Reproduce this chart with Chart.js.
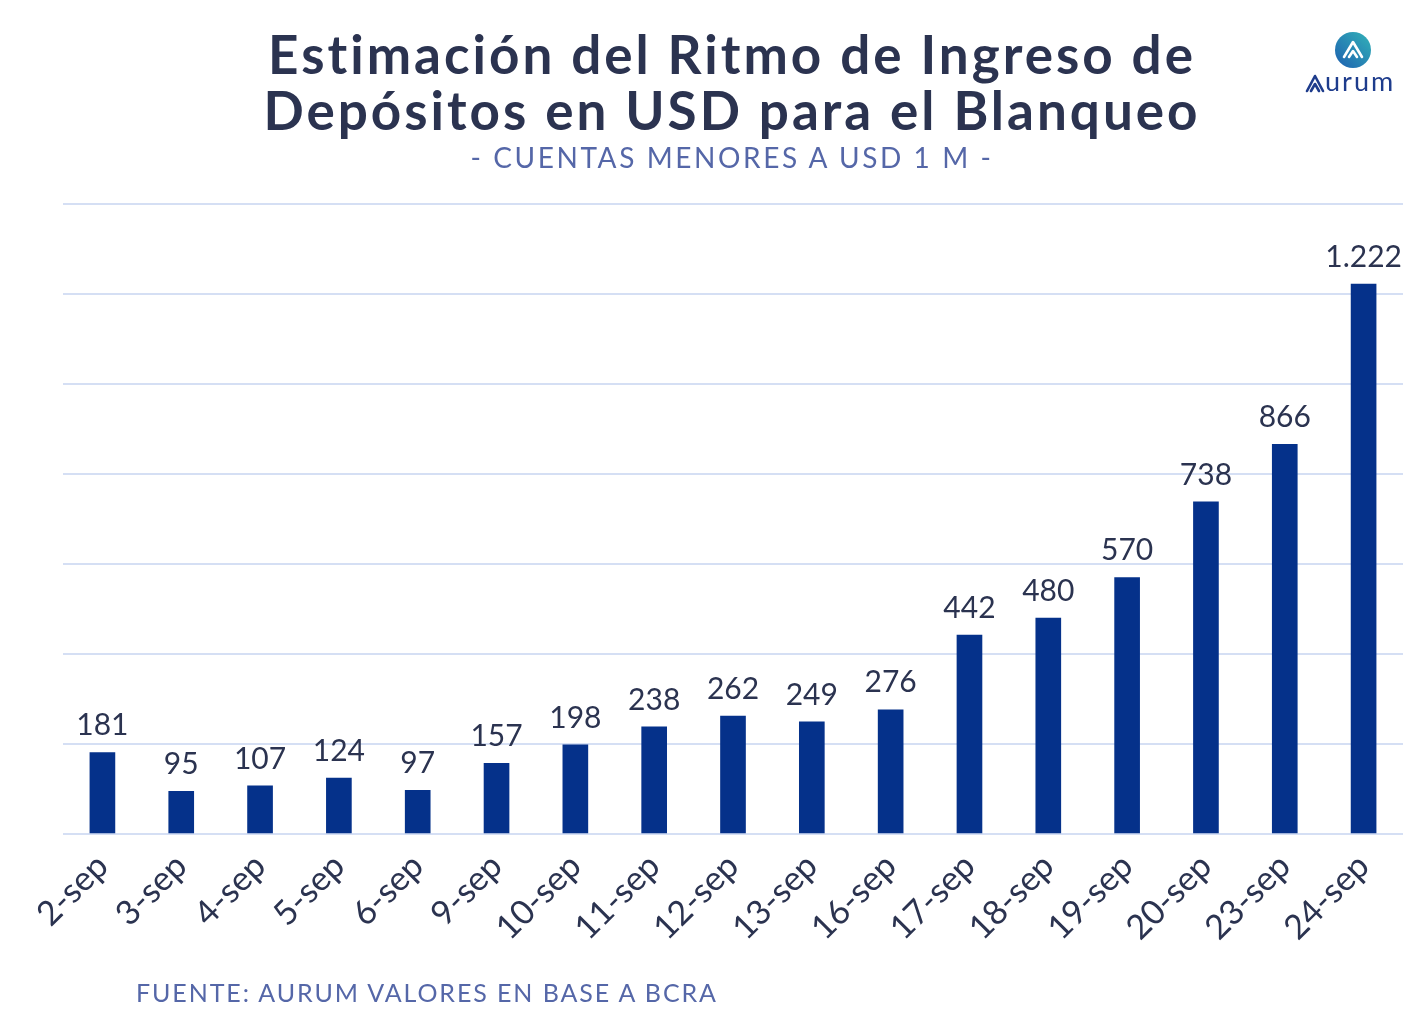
<!DOCTYPE html>
<html><head><meta charset="utf-8">
<script src="https://cdn.jsdelivr.net/npm/chart.js@4.4.1/dist/chart.umd.min.js"></script>
<style>
html,body{margin:0;padding:0;background:#fff;}
#wrap{position:relative;width:1422px;height:1032px;overflow:hidden;font-family:Lato,"Open Sans",sans-serif;}
#c{position:absolute;left:0;top:0;}
.t{position:absolute;white-space:nowrap;}
#title{left:0;width:1464px;top:26px;text-align:center;font-weight:700;font-size:53px;line-height:56px;color:#2b3350;letter-spacing:3px;}
#sub{left:0;width:1464px;top:140px;text-align:center;font-size:28px;color:#5567a8;letter-spacing:2.6px;}
#foot{left:136px;top:977px;font-size:25px;color:#5567a8;letter-spacing:1.9px;}
#logo{position:absolute;left:1300px;top:30px;}
</style></head>
<body><div id="wrap">
<canvas id="c" width="1422" height="1032"></canvas>
<div class="t" id="title">Estimación del Ritmo de Ingreso de<br>Depósitos en USD para el Blanqueo</div>
<div class="t" id="sub">- CUENTAS MENORES A USD 1 M -</div>
<div class="t" id="foot">FUENTE: AURUM VALORES EN BASE A BCRA</div>
<svg id="logo" width="112" height="70" viewBox="0 0 112 70">
<defs><linearGradient id="g" x1="0" y1="1" x2="1" y2="0"><stop offset="0" stop-color="#1d5fb0"/><stop offset="1" stop-color="#33b3b8"/></linearGradient></defs>
<circle cx="53" cy="20" r="18" fill="url(#g)"/>
<path d="M44 27 L53 12 L62 27 M49 27 L53 21 L57 27" stroke="#fff" stroke-width="2.6" fill="none" stroke-linejoin="round" stroke-linecap="round"/>
<path d="M7 61 L15 46 L23 61 M11 61 L15 54 L19 61" stroke="#1e3c8c" stroke-width="2.6" fill="none" stroke-linejoin="round" stroke-linecap="round"/>
<text x="25" y="61" font-family="Lato,sans-serif" font-size="27" fill="#1e3c8c" letter-spacing="2">urum</text>
</svg>
</div>
<script>
const categories = ["2-sep","3-sep","4-sep","5-sep","6-sep","9-sep","10-sep","11-sep","12-sep","13-sep","16-sep","17-sep","18-sep","19-sep","20-sep","23-sep","24-sep"];
const values = [181,95,107,124,97,157,198,238,262,249,276,442,480,570,738,866,1222];
const yMax = 1400, yStep = 200;

function fmt(v){return String(v).replace(/\B(?=(\d{3})+(?!\d))/g,'.');}

const labelPlugin = {
  id:'valLabels',
  afterDatasetsDraw(chart){
    const ctx = chart.ctx;
    const meta = chart.getDatasetMeta(0);
    ctx.save();
    ctx.font = '30px Lato, sans-serif';
    ctx.fillStyle = '#2b3350';
    ctx.textAlign = 'center';
    ctx.textBaseline = 'bottom';
    meta.data.forEach((bar,i)=>{
      ctx.fillText(fmt(values[i]), bar.x, bar.y - 12);
    });
    ctx.restore();
  }
};

new Chart(document.getElementById('c'),{
  type:'bar',
  data:{labels:categories,datasets:[{data:values,backgroundColor:'#05318a',barThickness:25}]},
  options:{
    responsive:false,animation:false,
    layout:{padding:{left:63,right:19,top:204,bottom:0}},
    plugins:{legend:{display:false},tooltip:{enabled:false}},
    scales:{
      x:{
        grid:{display:false},border:{display:false},
        ticks:{autoSkip:false,maxRotation:45,minRotation:45,color:'#2b3350',font:{size:34,family:'Lato, sans-serif'},padding:4},
        afterFit(s){s.height=198;}
      },
      y:{
        min:0,max:yMax,
        ticks:{display:false,stepSize:yStep},
        grid:{color:'#d5dff4',lineWidth:2,drawTicks:false},
        border:{display:false},
        afterFit(s){s.width=0;}
      }
    }
  },
  plugins:[labelPlugin]
});
</script>
</body></html>
